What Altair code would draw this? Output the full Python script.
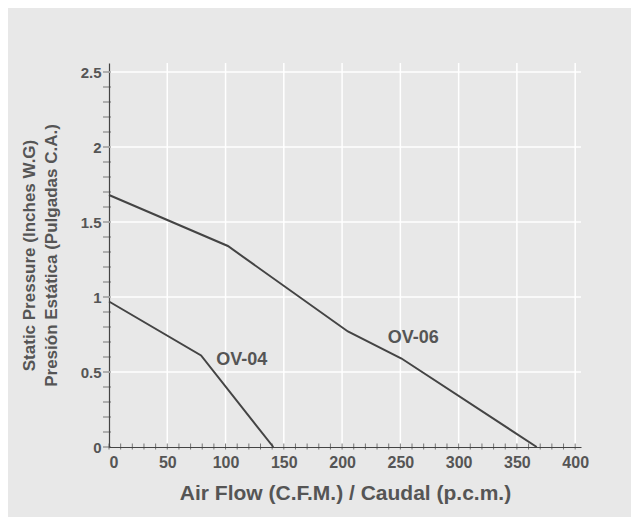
import altair as alt
import pandas as pd

# Data
ov06_flow = [0, 102, 205, 251, 367]
ov06_pressure = [1.68, 1.34, 0.77, 0.59, 0.0]
ov04_flow = [0, 79, 141]
ov04_pressure = [0.97, 0.61, 0.0]

label_names = ["OV-04", "OV-06"]
label_flow = [114, 261]
label_pressure = [0.58, 0.73]

x_major = [0, 50, 100, 150, 200, 250, 300, 350, 400]
y_major = [0, 0.5, 1.0, 1.5, 2.0, 2.5]
x_ticks = list(range(0, 401, 10))
y_ticks = [round(i * 0.1, 1) for i in range(0, 26)]

rows = []
for f, p in zip(ov06_flow, ov06_pressure):
    rows.append({"model": "OV-06", "flow": f, "pressure": p})
for f, p in zip(ov04_flow, ov04_pressure):
    rows.append({"model": "OV-04", "flow": f, "pressure": p})
df = pd.DataFrame(rows)
labels = pd.DataFrame({"name": label_names, "flow": label_flow, "pressure": label_pressure})

TXT = "#555555"
LINE = "#444444"
BG = "#e8e8e8"
W, H = 472, 384

xscale = alt.Scale(domain=[0, 405], nice=False, zero=False)
yscale = alt.Scale(domain=[0, 2.56], nice=False, zero=False)

xaxis = alt.Axis(title="Air Flow (C.F.M.) / Caudal (p.c.m.)", values=x_major,
                 grid=False, ticks=False, labelPadding=7, titlePadding=12)
yaxis = alt.Axis(title=["Static Pressure (Inches W.G)", "Presión Estática (Pulgadas C.A.)"],
                 values=y_major, format="~g",
                 grid=False, ticks=False, labelPadding=8, titlePadding=20, titleLineHeight=22)

xgrid = alt.Chart(pd.DataFrame({"v": x_major[1:]})).mark_rule(color="white", strokeWidth=1.5).encode(
    x=alt.X("v:Q", scale=xscale, axis=xaxis)
)
ygrid = alt.Chart(pd.DataFrame({"v": y_major[1:]})).mark_rule(color="white", strokeWidth=1.5).encode(
    y=alt.Y("v:Q", scale=yscale, axis=yaxis)
)

xtick = alt.Chart(pd.DataFrame({"v": x_ticks})).mark_tick(color=LINE, thickness=1, size=6).encode(
    x=alt.X("v:Q", scale=xscale, axis=xaxis),
    y=alt.value(H - 0.5),
)
ytick = alt.Chart(pd.DataFrame({"v": y_ticks})).mark_tick(color=LINE, thickness=1, size=8).encode(
    y=alt.Y("v:Q", scale=yscale, axis=yaxis),
    x=alt.value(-2),
)

lines = alt.Chart(df).mark_line(color=LINE, strokeWidth=2).encode(
    x=alt.X("flow:Q", scale=xscale, axis=xaxis),
    y=alt.Y("pressure:Q", scale=yscale, axis=yaxis),
    detail="model:N",
)

text = alt.Chart(labels).mark_text(fontSize=18, fontWeight="bold", color=TXT, font="Liberation Sans").encode(
    x=alt.X("flow:Q", scale=xscale, axis=xaxis),
    y=alt.Y("pressure:Q", scale=yscale, axis=yaxis),
    text="name:N",
)

chart = alt.layer(xgrid, ygrid, xtick, ytick, lines, text).properties(
    width=W, height=H,
    autosize=alt.AutoSizeParams(type="none"),
    padding={"left": 101, "top": 55, "right": 50, "bottom": 70},
    background=BG,
).configure_view(stroke=None, fill=BG).configure_axis(
    domainColor=LINE, domainWidth=1.2,
    labelFont="Liberation Sans", labelFontWeight="bold", labelColor=TXT,
    titleFont="Liberation Sans", titleFontWeight="bold", titleColor=TXT,
).configure_axisX(
    labelFontSize=16, titleFontSize=21,
).configure_axisY(
    labelFontSize=15, titleFontSize=17,
)

chart.save("out.html", embed_options={"renderer": "svg", "actions": False})
